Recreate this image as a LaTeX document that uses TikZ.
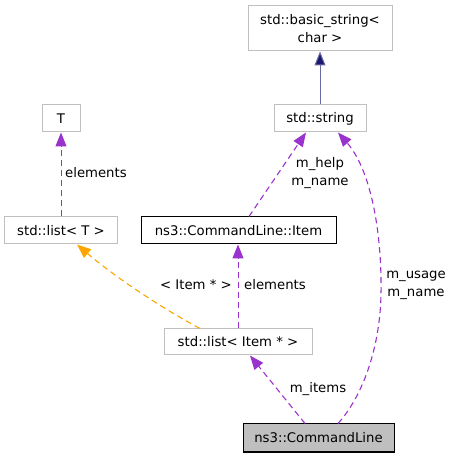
\documentclass[tikz,border=0pt]{standalone}
\usepackage{fontspec}
\setmainfont{DejaVu Sans}
\usetikzlibrary{arrows.meta}
\definecolor{edgepurple}{HTML}{9A32CD}
\definecolor{edgeorange}{HTML}{FFA500}
\definecolor{edgenavy}{HTML}{191970}
\definecolor{boxgray}{HTML}{BFBFBF}
\begin{document}
\begin{tikzpicture}[x=1bp,y=1bp,
  every node/.style={font=\fontsize{13.3}{17.5}\selectfont, inner sep=0pt},
  cls/.style={draw=boxgray, line width=1bp, fill=white, align=center},
  main/.style={draw=black, line width=1bp, align=center},
  dep/.style={draw=edgepurple, line width=1.1bp, dash pattern=on 6bp off 4bp,
     -{Triangle[length=14bp,width=11bp]}, edgepurple},
  tmpl/.style={draw=edgeorange, line width=1.1bp, dash pattern=on 6bp off 4bp,
     -{Triangle[length=14bp,width=11bp]}, edgeorange},
  inh/.style={draw=edgenavy!65, line width=1.1bp,
     -{Triangle[length=14bp,width=11bp,fill=edgenavy]}},
  vert/.style={line width=1bp},
  lbl/.style={align=center}
]
\useasboundingbox (0,0) rectangle (453,459);
% nodes (pixel y converted: y = 459 - ypx)
\node[cls, minimum width=144bp, minimum height=45bp] (bs) at (320,430.5) {std::basic\_string<\\char >};
\node[cls, minimum width=92bp, minimum height=27bp] (str) at (320,340.5) {std::string};
\node[cls, minimum width=38bp, minimum height=27bp] (T) at (61,340.5) {T};
\node[cls, minimum width=112bp, minimum height=27bp] (lt) at (61,228.5) {std::list< T >};
\node[main, minimum width=195bp, minimum height=27bp] (item) at (238.5,228.5) {ns3::CommandLine::Item};
\node[cls, minimum width=148bp, minimum height=26bp] (li) at (238,117) {std::list< Item * >};
\node[main, fill=boxgray, minimum width=151bp, minimum height=28bp] (cl) at (318.5,21) {ns3::CommandLine};
% edges
\draw[inh, vert] (str.north -| 320,0) -- (bs.south -| 320,0);
\draw[dep, vert] (lt.north -| 61,0) -- (T.south -| 61,0);
\draw[dep] (item.north -| 249,0) -- (str.south -| 306,0);
\draw[dep, vert] (li.north -| 238,0) -- (item.south -| 238,0);
\draw[tmpl] (li.north -| 200,0) .. controls (160,152) and (115,182) .. (lt.south -| 77,0);
\draw[dep] (cl.north -| 305,0) -- (li.south -| 250,0);
\draw[dep] (cl.north -| 338,0) .. controls (362,62) and (380,110) .. (381,165)
   .. controls (382,230) and (370,290) .. (str.south -| 338,0);
% labels
\node[lbl, anchor=west] (l1) at (65,286) {elements};
\node[lbl] (l2) at (320,286) {m\_help\\m\_name};
\node[lbl] (l3) at (416,173.5) {m\_usage\\m\_name};
\node[lbl] (l4) at (196,174) {< Item * >};
\node[lbl] (l5) at (275,174) {elements};
\node[lbl] (l6) at (318,70) {m\_items};
\end{tikzpicture}
\end{document}
